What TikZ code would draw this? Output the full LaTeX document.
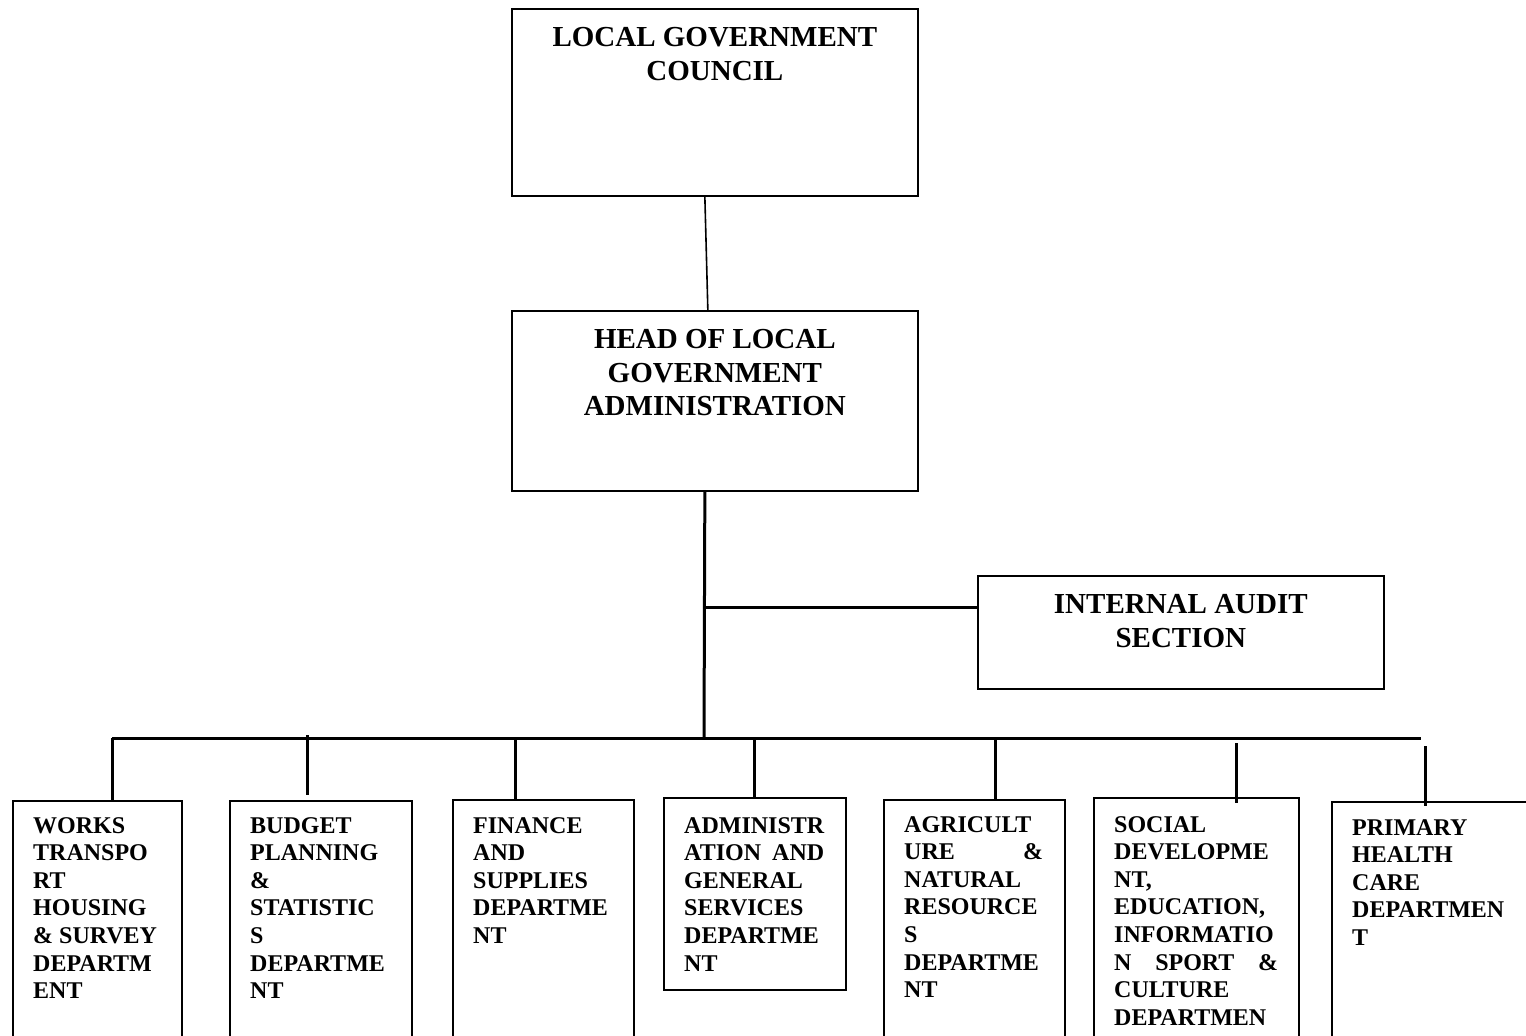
\documentclass[tikz,border=0pt]{standalone}
\usepackage{fontspec}
\setmainfont{Liberation Serif}
\usetikzlibrary{calc}
\tikzset{
  box/.style={draw, line width=1.7pt, rectangle, inner sep=0pt, anchor=north west},
  toptext/.style={anchor=north, inner sep=0pt, align=center, font=\fontsize{29}{33.3}\selectfont\bfseries},
  deptext/.style={anchor=north west, inner sep=0pt, align=left, font=\fontsize{24}{27.6}\selectfont\bfseries},
  conn/.style={line width=3pt},
  thinconn/.style={line width=1.6pt}
}
\begin{document}
\begin{tikzpicture}[x=1pt,y=-1pt]
\useasboundingbox (0,0) rectangle (1526,1036);
\clip (0,0) rectangle (1526,1036);
% upper boxes
\node[box, minimum width=406pt, minimum height=187pt] (council) at (511,8) {};
\node[toptext] (councilt) at ($(council.north)+(0,19.5)$) {LOCAL GOVERNMENT\\COUNCIL};
\node[box, minimum width=406pt, minimum height=180pt] (head) at (511,310) {};
\node[toptext] (headt) at ($(head.north)+(0,19.5)$) {HEAD OF LOCAL\\GOVERNMENT\\ADMINISTRATION};
\node[box, minimum width=406pt, minimum height=113pt] (audit) at (977,575) {};
\node[toptext] (auditt) at ($(audit.north)+(0,19.5)$) {INTERNAL AUDIT\\SECTION};
% department boxes
\node[box, minimum width=169pt, minimum height=320pt] (works) at (12,800) {};
\node[box, minimum width=182pt, minimum height=320pt] (budget) at (229,800) {};
\node[box, minimum width=181pt, minimum height=320pt] (finance) at (452,799) {};
\node[box, minimum width=182pt, minimum height=192pt] (admin) at (663,797) {};
\node[box, minimum width=181pt, minimum height=320pt] (agri) at (883,799) {};
\node[box, minimum width=205pt, minimum height=320pt] (social) at (1093,797) {};
\node[box, minimum width=320pt, minimum height=320pt] (primary) at (1331,801) {};
\node[deptext] (workst) at (33,817) {WORKS\\TRANSPO\\RT\\HOUSING\\\& SURVEY\\DEPARTM\\ENT};
\node[deptext] (budgett) at (250,817) {BUDGET\\PLANNING\\\&\\STATISTIC\\S\\DEPARTME\\NT};
\node[deptext] (financet) at (473,817) {FINANCE\\AND\\SUPPLIES\\DEPARTME\\NT};
\node[deptext] (admint) at (684,817) {ADMINISTR\\\hbox to 140pt{ATION\hfill AND}\\GENERAL\\SERVICES\\DEPARTME\\NT};
\node[deptext] (agrit) at (904,816) {AGRICULT\\\hbox to 139pt{URE\hfill\&}\\NATURAL\\RESOURCE\\S\\DEPARTME\\NT};
\node[deptext] (socialt) at (1114,816) {SOCIAL\\DEVELOPME\\NT,\\EDUCATION,\\INFORMATIO\\\hbox to 164pt{N\hfill SPORT\hfill\&}\\CULTURE\\DEPARTMEN};
\node[deptext] (primaryt) at (1352,819) {PRIMARY\\HEALTH\\CARE\\DEPARTMEN\\T};
% connectors
\draw[thinconn] ($(council.south)+(-10,0)$) -- ($(head.north)+(-7,0)$);
\coordinate (trunk) at (704,738);
\coordinate (auditj) at (704,607);
\coordinate (busw) at (112,738);
\coordinate (buse) at (1421,738);
\draw[conn] ($(head.south)+(-10,0)$) -- (trunk);
\draw[conn] (auditj) -- (auditj -| audit.west);
\draw[conn] (busw) -- (buse);
\draw[conn] (busw) -- (busw |- works.north);
\coordinate (bud1) at (307,735);
\coordinate (bud2) at (307,795);
\draw[conn] (bud1) -- (bud2);
\coordinate (finj) at (515,738);
\draw[conn] (finj) -- (finj |- finance.north);
\coordinate (admj) at (754,738);
\draw[conn] (admj) -- (admj |- admin.north);
\coordinate (agrj) at (995,738);
\draw[conn] (agrj) -- ($(agrj |- agri.north)+(0,2)$);
\coordinate (soc1) at (1236,743);
\coordinate (soc2) at (1236,803);
\draw[conn] (soc1) -- (soc2);
\coordinate (pri1) at (1425,746);
\coordinate (pri2) at (1425,806);
\draw[conn] (pri1) -- (pri2);
\end{tikzpicture}
\end{document}
